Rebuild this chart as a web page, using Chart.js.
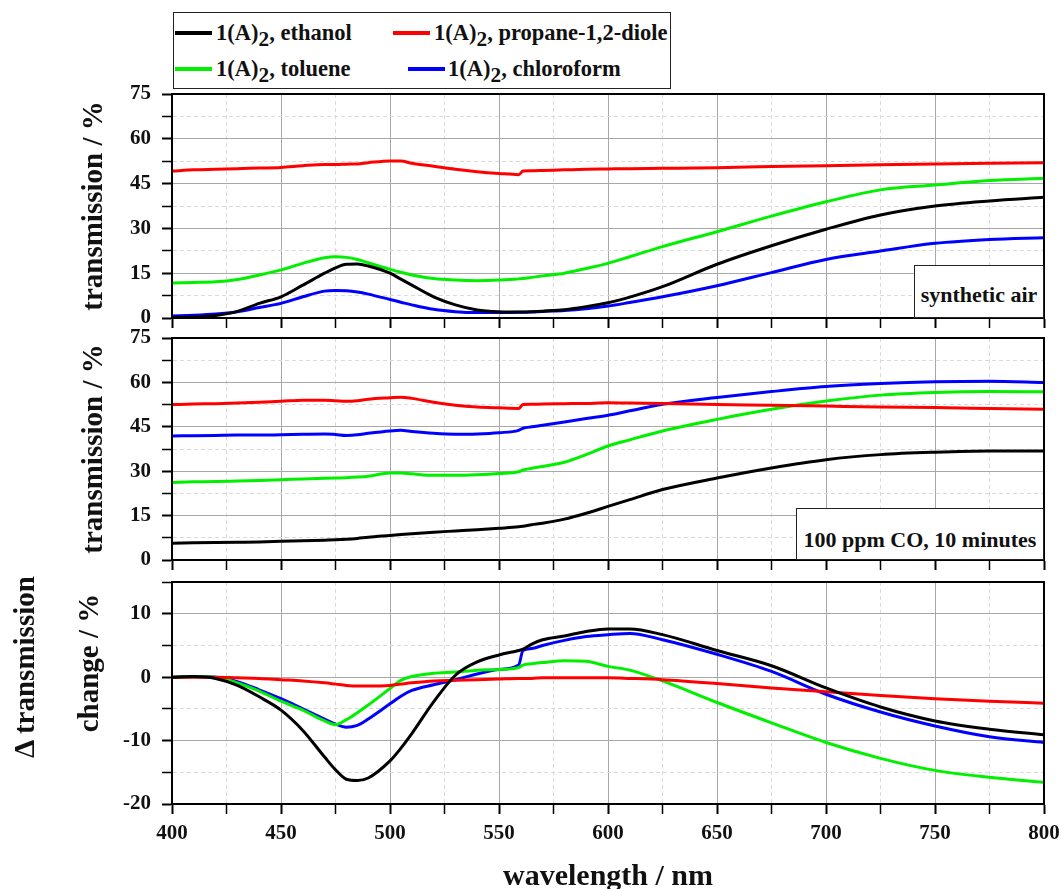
<!DOCTYPE html>
<html>
<head>
<meta charset="utf-8">
<script src="https://cdn.jsdelivr.net/npm/chart.js@4.4.0/dist/chart.umd.min.js"></script>
<style>
  body { margin: 0; background: #fff; }
  #wrap { position: relative; width: 1062px; height: 889px; overflow: hidden;
          font-family: "Liberation Serif", "Times New Roman", serif; font-weight: bold; color: #111; }
  canvas { position: absolute; left: 0; }
  .legend { position: absolute; left: 173px; top: 12px; width: 498px; height: 77px;
            box-sizing: border-box; border: 1.5px solid #222; background: #fff; font-size: 22.5px; }
  .item { position: absolute; white-space: nowrap; line-height: 24px; }
  .item span.swatch { position: absolute; top: 10px; height: 4px; }
  .item sub { font-size: 0.95em; vertical-align: -0.3em; line-height: 0; }
  .note { position: absolute; box-sizing: border-box; border: 1.5px solid #222; background: #fff;
          font-size: 22px; text-align: center; white-space: nowrap; }
  .ytitle { position: absolute; white-space: nowrap; font-size: 29px;
            transform: translate(-50%, -50%) rotate(-90deg); }
</style>
</head>
<body>
<div id="wrap">
  <canvas id="air" width="1062" height="250" style="top:80px"></canvas>
  <canvas id="co" width="1062" height="252" style="top:324px"></canvas>
  <canvas id="delta" width="1062" height="321" style="top:568px"></canvas>

  <div class="legend">
    <div class="item" style="left:0; top:8px"><span class="swatch" style="left:1px; width:37px; background:#000"></span><span style="position:absolute; left:42px">1(A)<sub>2</sub>, ethanol</span></div>
    <div class="item" style="left:219px; top:8px"><span class="swatch" style="left:0; width:37px; background:#ff0000"></span><span style="position:absolute; left:41px">1(A)<sub>2</sub>, propane-1,2-diole</span></div>
    <div class="item" style="left:0; top:44px"><span class="swatch" style="left:1px; width:37px; background:#00f000"></span><span style="position:absolute; left:42px">1(A)<sub>2</sub>, toluene</span></div>
    <div class="item" style="left:234px; top:44px"><span class="swatch" style="left:0; width:37px; background:#0000ff"></span><span style="position:absolute; left:40px">1(A)<sub>2</sub>, chloroform</span></div>
  </div>

  <div class="note" style="left:914px; top:265px; width:130px; height:53px; padding-top:4px; line-height:49px">synthetic air</div>
  <div class="note" style="left:796px; top:508px; width:248px; height:52px; padding-top:9px; line-height:43px">100 ppm CO, 10 minutes</div>

  <div class="ytitle" style="left:24px; top:667px">&Delta; transmission</div>
  <div class="ytitle" style="left:88px; top:663px">change / %</div>
</div>

<script>
var wavelength = [400,410,420,430,440,450,460,470,475,480,485,490,500,505,510,520,530,540,550,559,561,565,570,580,590,600,610,625,650,675,700,725,750,775,800];

// synthetic air
var airEthanol    = [0.2,0.3,0.8,2.2,4.9,7.1,11.0,15.0,16.8,18.0,18.1,17.4,15.0,13.0,11.0,7.1,4.4,2.7,2.1,2.0,2.0,2.1,2.3,2.8,3.8,5.1,7.0,10.5,18.0,24.2,29.7,34.5,37.5,39.2,40.4];
var airPropane    = [49.2,49.6,49.8,50.0,50.2,50.4,51.0,51.4,51.4,51.5,51.6,52.0,52.6,52.6,51.8,50.8,49.8,49.0,48.4,48.0,49.2,49.3,49.4,49.6,49.8,49.9,50.0,50.1,50.3,50.7,51.0,51.3,51.6,51.8,52.0];
var airToluene    = [11.7,11.9,12.1,12.9,14.4,16.1,18.3,20.2,20.5,20.3,19.6,18.5,16.3,15.3,14.4,13.2,12.7,12.5,12.7,13.1,13.2,13.6,14.1,15.0,16.6,18.3,20.5,23.9,28.9,34.1,38.9,42.9,44.5,46.0,46.8];
var airChloroform = [0.7,0.9,1.3,2.1,3.5,4.9,7.1,9.0,9.2,9.1,8.7,8.0,6.2,5.3,4.4,2.9,2.1,1.8,1.8,1.9,1.9,2.0,2.2,2.5,3.1,4.0,5.2,7.1,10.8,15.2,19.6,22.4,25.0,26.3,26.9];

// 100 ppm CO, 10 minutes
var coEthanol    = [5.7,5.8,5.9,6.0,6.1,6.3,6.5,6.7,6.8,7.0,7.3,7.7,8.3,8.6,8.9,9.4,9.8,10.2,10.7,11.2,11.4,11.9,12.4,13.8,15.8,18.1,20.4,23.8,27.7,31.1,33.9,35.6,36.4,36.8,36.8];
var coPropane    = [52.5,52.7,52.8,53.0,53.3,53.6,54.0,54.0,53.8,53.6,53.8,54.3,54.8,55.0,54.6,53.3,52.3,51.7,51.4,51.2,52.5,52.6,52.7,52.8,52.9,53.1,53.0,52.9,52.5,52.3,52.0,51.7,51.5,51.2,50.9];
var coToluene    = [26.2,26.4,26.5,26.7,26.9,27.1,27.4,27.6,27.7,27.8,28.0,28.3,29.4,29.4,29.1,28.6,28.6,28.8,29.2,29.8,30.4,31.0,31.6,33.0,35.6,38.5,40.6,43.6,47.5,50.9,53.7,55.7,56.6,56.9,56.8];
var coChloroform = [41.9,42.0,42.1,42.2,42.2,42.3,42.5,42.6,42.4,42.1,42.3,42.8,43.6,43.8,43.4,42.8,42.5,42.6,43.0,43.8,44.5,45.0,45.5,46.6,47.8,48.9,50.4,52.6,54.9,56.9,58.6,59.6,60.2,60.4,60.0];

// change in transmission
var dEthanol    = [0,0.1,-0.2,-1.3,-3.1,-5.2,-8.4,-12.6,-14.6,-16.1,-16.3,-15.9,-13.2,-11.2,-8.9,-3.9,0.3,2.4,3.5,4.2,4.4,5.2,5.9,6.5,7.2,7.6,7.6,6.7,4.2,1.8,-1.7,-4.7,-6.9,-8.2,-9.1];
var dPropane    = [0,0,0,-0.1,-0.2,-0.4,-0.6,-0.9,-1.1,-1.3,-1.4,-1.4,-1.3,-1.1,-0.9,-0.6,-0.5,-0.4,-0.3,-0.2,-0.2,-0.2,-0.1,-0.1,-0.1,-0.1,-0.2,-0.4,-1.0,-1.7,-2.3,-2.9,-3.4,-3.8,-4.1];
var dToluene    = [0,0.1,0,-0.9,-2.2,-3.8,-5.2,-6.9,-7.5,-6.7,-5.6,-4.4,-1.8,-0.5,0.1,0.6,0.8,1.1,1.2,1.5,1.9,2.1,2.3,2.6,2.5,1.7,1.1,-0.6,-4.0,-7.2,-10.3,-12.8,-14.7,-15.8,-16.6];
var dChloroform = [0,0.1,0,-0.7,-2.0,-3.4,-5.0,-6.6,-7.4,-7.9,-7.6,-6.6,-4.2,-3.0,-2.1,-1.2,-0.4,0.5,1.2,1.9,4.2,4.5,5.0,5.8,6.4,6.7,6.9,5.9,3.6,0.9,-2.7,-5.5,-7.7,-9.4,-10.3];

var seriesNames  = ['1(A)2, ethanol', '1(A)2, propane-1,2-diole', '1(A)2, toluene', '1(A)2, chloroform'];
var seriesColors = ['#000000', '#ff0000', '#00f000', '#0000ff'];

var serif = '"Liberation Serif", "Times New Roman", serif';
var tickFont = { family: serif, size: 21, weight: 'bold' };

function toXY(vals) {
  return vals.map(function(v, i) { return { x: wavelength[i], y: v }; });
}

function isMajor(ctx, step) {
  return ctx.tick && Math.abs(ctx.tick.value % step) < 1e-6;
}

// black box round the plot area
var frame = {
  id: 'frame',
  afterDraw: function(chart) {
    var a = chart.chartArea, c = chart.ctx;
    c.save();
    c.strokeStyle = '#000';
    c.lineWidth = 2;
    c.strokeRect(a.left, a.top, a.right - a.left, a.bottom - a.top);
    c.restore();
  }
};

function makePanel(id, values, cfg) {
  var datasets = values.map(function(vals, i) {
    return { label: seriesNames[i], data: toXY(vals), borderColor: seriesColors[i], backgroundColor: seriesColors[i] };
  });
  var yTitle = cfg.yTitle
    ? { display: true, text: cfg.yTitle, color: '#111', padding: { top: 77, bottom: 0 },
        font: { family: serif, size: 29, weight: 'bold', lineHeight: 1.2 } }
    : { display: false };
  var xTitle = cfg.xLabels
    ? { display: true, text: 'wavelength / nm', color: '#111', padding: 0,
        font: { family: serif, size: 30, weight: 'bold', lineHeight: 0.8 } }
    : { display: false };

  return new Chart(document.getElementById(id), {
    type: 'line',
    data: { datasets: datasets },
    options: {
      responsive: false,
      animation: false,
      events: [],
      layout: { padding: { left: 0, right: 18, top: cfg.padTop, bottom: cfg.padBottom } },
      plugins: { legend: { display: false }, tooltip: { enabled: false } },
      elements: {
        point: { radius: 0 },
        line: { borderWidth: 3, cubicInterpolationMode: 'monotone' }
      },
      scales: {
        x: {
          type: 'linear', min: 400, max: 800,
          afterFit: function(s) { s.height = cfg.xHeight; s.paddingLeft = 0; s.paddingRight = 0; },
          ticks: {
            stepSize: 25, autoSkip: false, maxRotation: 0, display: cfg.xLabels,
            padding: 7, color: '#111', font: tickFont,
            callback: function(v) { return v % 50 === 0 ? v : ''; }
          },
          grid: {
            color: function(ctx) { return isMajor(ctx, 50) ? '#a8a8a8' : '#dadada'; },
            lineWidth: 1, tickColor: '#000', tickLength: 10,
            tickWidth: function(ctx) { return isMajor(ctx, 50) ? 2 : 1.5; }
          },
          border: {
            color: '#000', width: 2,
            dash: function(ctx) { return ctx.tick && !isMajor(ctx, 50) ? [4, 3] : []; }
          },
          title: xTitle
        },
        y: {
          min: cfg.yMin, max: cfg.yMax,
          afterFit: function(s) { s.width = 172; s.paddingTop = 0; s.paddingBottom = 0; },
          ticks: {
            stepSize: cfg.yStep, autoSkip: false, padding: 11, color: '#111', font: tickFont,
            callback: function(v) { return Math.abs(v % cfg.yMajor) < 1e-6 ? v : ''; }
          },
          grid: {
            color: function(ctx) { return isMajor(ctx, cfg.yMajor) ? '#a8a8a8' : '#dadada'; },
            lineWidth: 1, tickColor: '#000', tickLength: 10,
            tickWidth: function(ctx) { return isMajor(ctx, cfg.yMajor) ? 2 : 1.5; }
          },
          border: {
            color: '#000', width: 2,
            dash: function(ctx) { return ctx.tick && !isMajor(ctx, cfg.yMajor) ? [4, 3] : []; }
          },
          title: yTitle
        }
      }
    },
    plugins: [frame]
  });
}

makePanel('air', [airEthanol, airPropane, airToluene, airChloroform], {
  yMin: 0, yMax: 75, yStep: 7.5, yMajor: 15, yTitle: 'transmission / %',
  padTop: 14, padBottom: 0, xHeight: 12, xLabels: false
});
makePanel('co', [coEthanol, coPropane, coToluene, coChloroform], {
  yMin: 0, yMax: 75, yStep: 7.5, yMajor: 15, yTitle: 'transmission / %',
  padTop: 14, padBottom: 4, xHeight: 12, xLabels: false
});
makePanel('delta', [dEthanol, dPropane, dToluene, dChloroform], {
  yMin: -20, yMax: 15, yStep: 5, yMajor: 10, yTitle: null,
  padTop: 14, padBottom: 0, xHeight: 85, xLabels: true
});
</script>
</body>
</html>
